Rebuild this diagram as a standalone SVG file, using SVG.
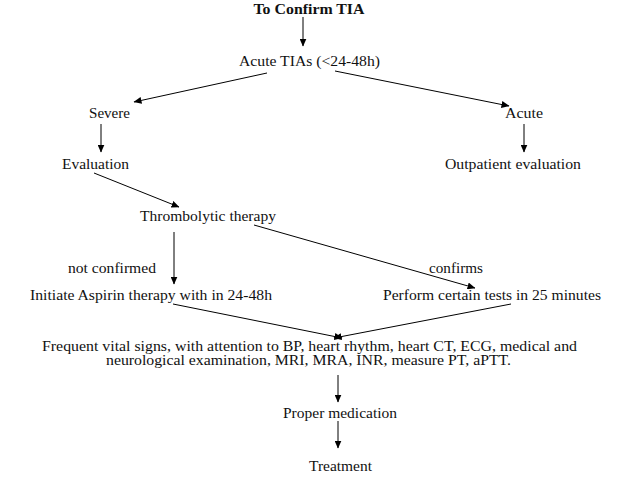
<svg xmlns="http://www.w3.org/2000/svg" width="625" height="486" viewBox="0 0 625 486">
<defs>
<marker id="ah" markerWidth="8" markerHeight="7" refX="7.5" refY="3.5" orient="auto" markerUnits="userSpaceOnUse">
<path d="M0,0 L8,3.5 L0,7 Z" fill="#000"/>
</marker>
<style>
text{font-size:14px;fill:#111;text-anchor:middle}
.b{font-weight:bold}
.c line{stroke:#000;stroke-width:1;marker-end:url(#ah)}
</style>
</defs>
<rect width="625" height="486" fill="#fff"/>
<g font-family="'Liberation Serif', 'DejaVu Serif', serif" lengthAdjust="spacingAndGlyphs">
<g id="n-confirm"><text class="b" x="309" y="14" textLength="111" lengthAdjust="spacingAndGlyphs">To Confirm TIA</text></g>
<g id="n-acutetias"><text x="309.5" y="66" textLength="141" lengthAdjust="spacingAndGlyphs">Acute TIAs (&lt;24-48h)</text></g>
<g id="n-severe"><text x="109.5" y="118" textLength="41" lengthAdjust="spacingAndGlyphs">Severe</text></g>
<g id="n-acute"><text x="524" y="118" textLength="38" lengthAdjust="spacingAndGlyphs">Acute</text></g>
<g id="n-evaluation"><text x="95.5" y="169" textLength="67" lengthAdjust="spacingAndGlyphs">Evaluation</text></g>
<g id="n-outpatient"><text x="513" y="169" textLength="136" lengthAdjust="spacingAndGlyphs">Outpatient evaluation</text></g>
<g id="n-thrombolytic"><text x="208" y="221" textLength="136" lengthAdjust="spacingAndGlyphs">Thrombolytic therapy</text></g>
<g id="l-notconfirmed"><text x="112" y="273" textLength="88" lengthAdjust="spacingAndGlyphs">not confirmed</text></g>
<g id="l-confirms"><text x="456" y="273" textLength="54" lengthAdjust="spacingAndGlyphs">confirms</text></g>
<g id="n-aspirin"><text x="151" y="300" textLength="242" lengthAdjust="spacingAndGlyphs">Initiate Aspirin therapy with in 24-48h</text></g>
<g id="n-tests"><text x="492" y="300" textLength="218" lengthAdjust="spacingAndGlyphs">Perform certain tests in 25 minutes</text></g>
<g id="n-vitals"><text x="309.5" y="351" textLength="535" lengthAdjust="spacingAndGlyphs">Frequent vital signs, with attention to BP, heart rhythm, heart CT, ECG, medical and</text><text x="308.5" y="365" textLength="405" lengthAdjust="spacingAndGlyphs">neurological examination, MRI, MRA, INR, measure PT, aPTT.</text></g>
<g id="n-medication"><text x="340" y="418" textLength="114" lengthAdjust="spacingAndGlyphs">Proper medication</text></g>
<g id="n-treatment"><text x="340.5" y="471" textLength="63" lengthAdjust="spacingAndGlyphs">Treatment</text></g>
</g>
<g class="c" id="connectors">
<line x1="303" y1="17" x2="303" y2="46"/>
<line x1="267" y1="73" x2="134" y2="102"/>
<line x1="335" y1="71" x2="509" y2="106"/>
<line x1="101" y1="124" x2="101" y2="152"/>
<line x1="524" y1="124" x2="524" y2="152"/>
<line x1="94" y1="173" x2="179" y2="207"/>
<line x1="174" y1="232" x2="174" y2="284"/>
<line x1="254" y1="225" x2="475" y2="288"/>
<line x1="173" y1="304" x2="342" y2="338"/>
<line x1="511" y1="304" x2="334" y2="338"/>
<line x1="338" y1="375" x2="338" y2="402"/>
<line x1="338" y1="421" x2="338" y2="448"/>
</g>
</svg>
